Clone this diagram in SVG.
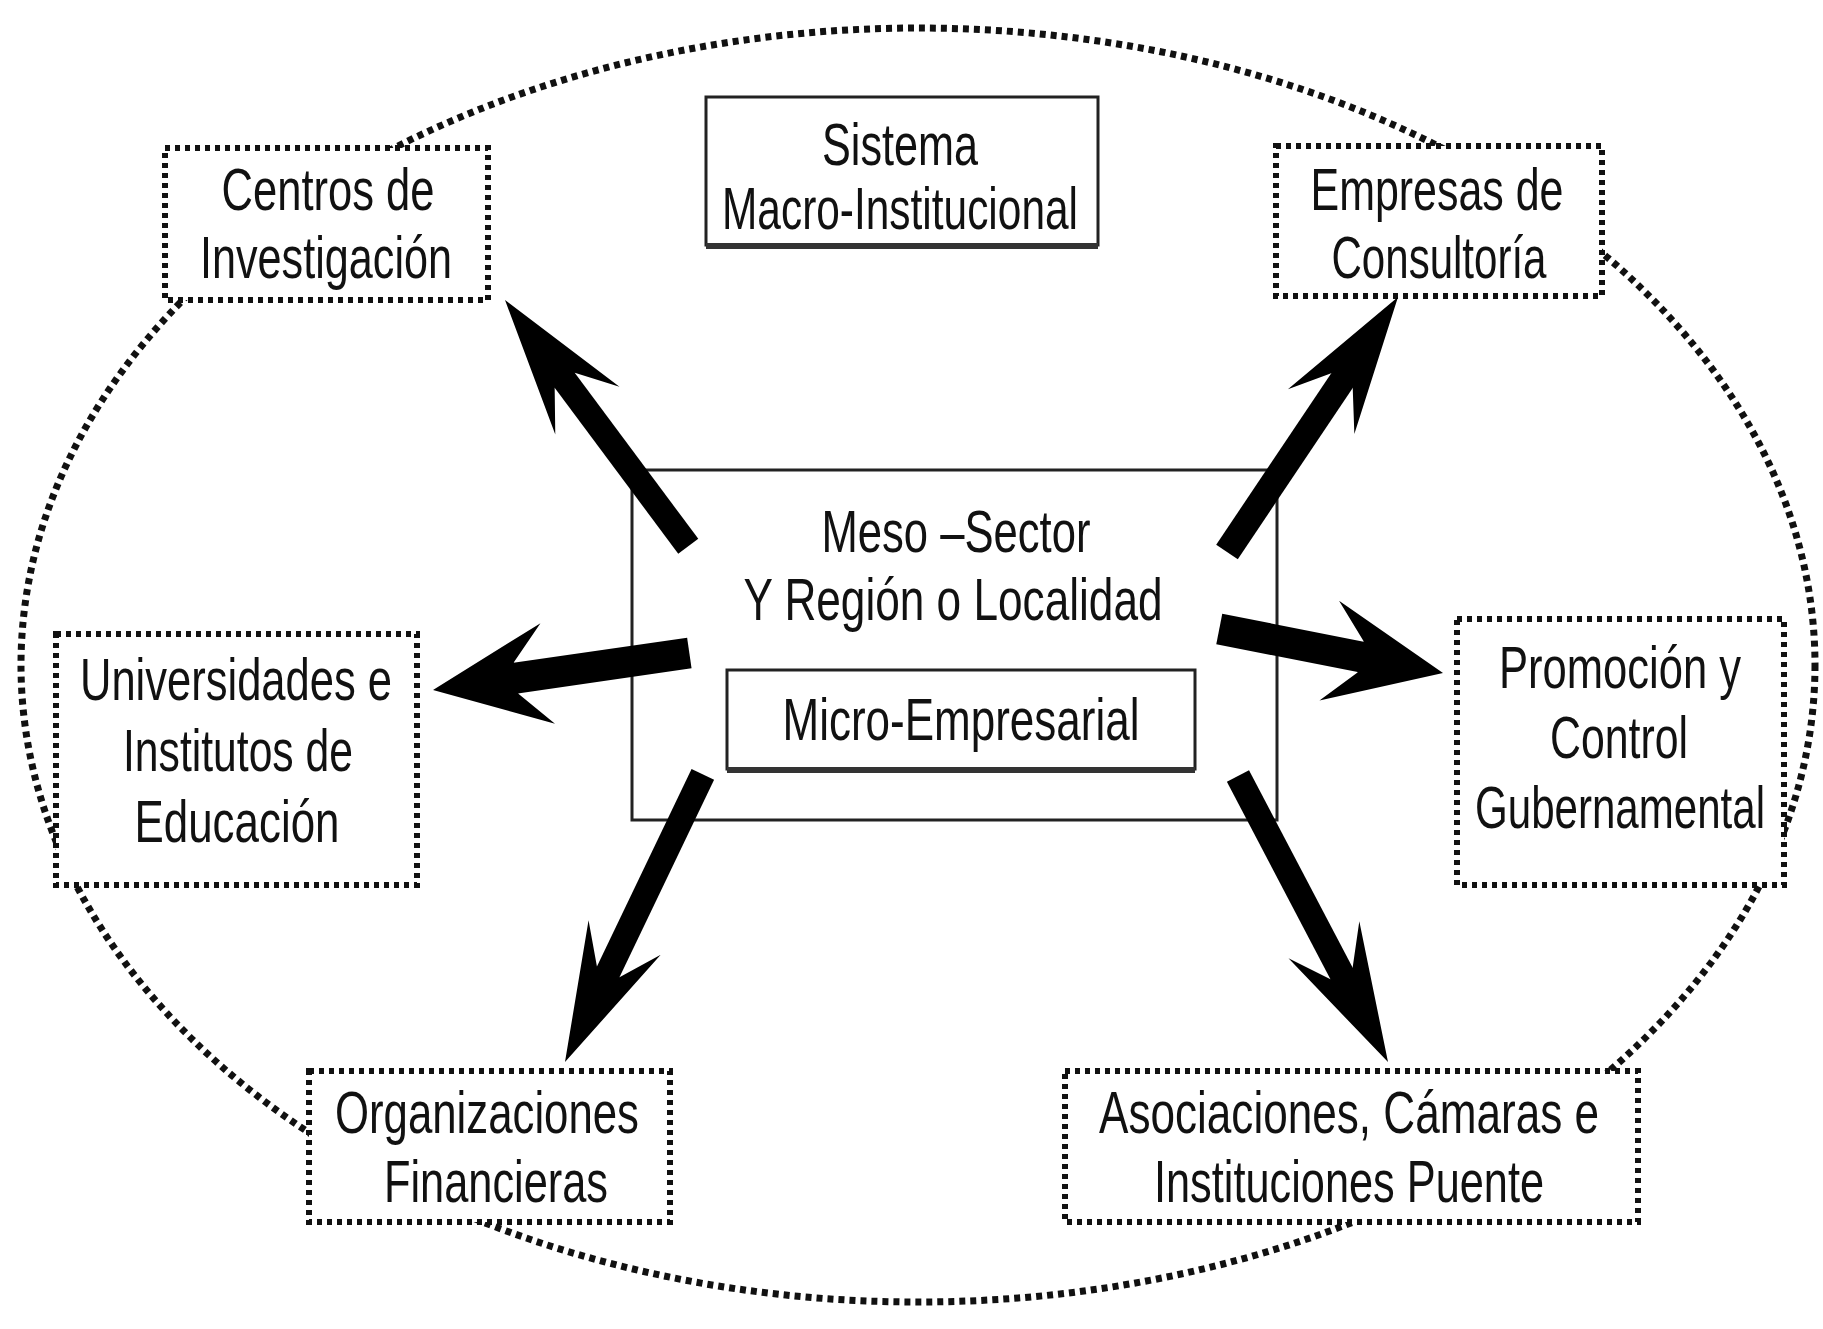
<svg xmlns="http://www.w3.org/2000/svg" xmlns:xlink="http://www.w3.org/1999/xlink" width="1823" height="1329" viewBox="0 0 1823 1329">
  <style>
    .lbl { font-family: "Liberation Sans", Arial, sans-serif; font-size: 60px; fill: #111; text-anchor: middle; }
    .tall { font-size: 44px; }
    .dotbox { fill: #fff; stroke: #111; stroke-width: 6; stroke-dasharray: 5 5; }
    .solidbox { fill: #fff; stroke: #222; stroke-width: 3; }
    .shadow { stroke: #333; stroke-width: 6; }
    .ring { fill: none; stroke: #111; stroke-width: 7; stroke-dasharray: 6 5; }
    .arrow { fill: #000; }
  </style>
  <defs>
    <!-- barbed arrow head, tip at the origin pointing along +x -->
    <path id="head" d="M0,0 L-138,-40 L-100,-12.5 L-100,12.5 L-138,40 Z"/>
  </defs>

  <rect width="1823" height="1329" fill="#fff"/>

  <!-- surrounding dotted boundary -->
  <ellipse class="ring" cx="918" cy="665" rx="897" ry="637"/>

  <!-- central system -->
  <g id="meso">
    <rect class="solidbox" x="632" y="470" width="645" height="350" stroke="#000"/>
    <text class="lbl" x="956" y="552" textLength="269" lengthAdjust="spacingAndGlyphs">Meso –Sector</text>
    <text class="lbl" x="953" y="620" textLength="419" lengthAdjust="spacingAndGlyphs">Y Región o Localidad</text>
  </g>
  <g id="micro">
    <rect class="solidbox" x="727" y="670" width="468" height="99"/>
    <line class="shadow" x1="727" y1="770" x2="1195" y2="770"/>
    <text class="lbl" x="961" y="740" textLength="357" lengthAdjust="spacingAndGlyphs">Micro-Empresarial</text>
  </g>
  <g id="macro">
    <rect class="solidbox" x="706" y="97" width="392" height="148"/>
    <line class="shadow" x1="706" y1="246" x2="1098" y2="246"/>
    <text class="lbl" x="900" y="165" textLength="156" lengthAdjust="spacingAndGlyphs">Sistema</text>
    <text class="lbl" x="900" y="229" textLength="356" lengthAdjust="spacingAndGlyphs">Macro-Institucional</text>
  </g>

  <!-- surrounding institutions -->
  <g id="centros">
    <rect class="dotbox" x="165" y="148" width="323" height="152"/>
    <text class="lbl" x="328" y="210" textLength="213" lengthAdjust="spacingAndGlyphs">Centros de</text>
    <text class="lbl" x="326" y="278" textLength="252" lengthAdjust="spacingAndGlyphs">Investigación</text>
  </g>
  <g id="empresas">
    <rect class="dotbox" x="1276" y="146" width="326" height="150"/>
    <text class="lbl" x="1437" y="210" textLength="253" lengthAdjust="spacingAndGlyphs">Empresas de</text>
    <text class="lbl" x="1439" y="278" textLength="215" lengthAdjust="spacingAndGlyphs">Consultoría</text>
  </g>
  <g id="universidades">
    <rect class="dotbox" x="56" y="634" width="361" height="251"/>
    <text class="lbl" x="236" y="700" textLength="312" lengthAdjust="spacingAndGlyphs">Universidades e</text>
    <text class="lbl" x="238" y="771" textLength="230" lengthAdjust="spacingAndGlyphs">Institutos de</text>
    <text class="lbl" x="237" y="842" textLength="205" lengthAdjust="spacingAndGlyphs">Educación</text>
  </g>
  <g id="promocion">
    <rect class="dotbox" x="1457" y="619" width="327" height="266"/>
    <!-- smaller size stretched upright so the long lines stay inside the box -->
    <text class="lbl tall" transform="matrix(1,0,0,1.364,1620,688)" x="0" y="0" textLength="242" lengthAdjust="spacingAndGlyphs">Promoción y</text>
    <text class="lbl" x="1619" y="758" textLength="138" lengthAdjust="spacingAndGlyphs">Control</text>
    <text class="lbl tall" transform="matrix(1,0,0,1.364,1620,828)" x="0" y="0" textLength="290" lengthAdjust="spacingAndGlyphs">Gubernamental</text>
  </g>
  <g id="organizaciones">
    <rect class="dotbox" x="309" y="1071" width="361" height="151"/>
    <text class="lbl" x="487" y="1133" textLength="304" lengthAdjust="spacingAndGlyphs">Organizaciones</text>
    <text class="lbl" x="496" y="1202" textLength="224" lengthAdjust="spacingAndGlyphs">Financieras</text>
  </g>
  <g id="asociaciones">
    <rect class="dotbox" x="1065" y="1071" width="573" height="151"/>
    <text class="lbl" x="1349" y="1133" textLength="500" lengthAdjust="spacingAndGlyphs">Asociaciones, Cámaras e</text>
    <text class="lbl" x="1349" y="1202" textLength="390" lengthAdjust="spacingAndGlyphs">Instituciones Puente</text>
  </g>

  <!-- thick arrows from the meso level outwards; each group is placed at its tip -->
  <g id="connectors" class="arrow">
    <g transform="translate(505,300) rotate(-126.65)">
      <rect x="-307" y="-12.5" width="212" height="25"/>
      <use href="#head"/>
    </g>
    <g transform="translate(1398,297) rotate(-56.15)">
      <rect x="-307" y="-13" width="212" height="26"/>
      <use href="#head"/>
    </g>
    <g transform="translate(433,690) rotate(171.78)">
      <rect x="-259" y="-15.5" width="179" height="31"/>
      <use href="#head" transform="scale(0.84,1.27)"/>
    </g>
    <g transform="translate(1443,673) rotate(11.11)">
      <rect x="-228" y="-15.5" width="148" height="31"/>
      <use href="#head" transform="scale(0.84,1.27)"/>
    </g>
    <g transform="translate(565,1062) rotate(115.6)">
      <rect x="-319" y="-12.5" width="224" height="25"/>
      <use href="#head"/>
    </g>
    <g transform="translate(1388,1062) rotate(62.32)">
      <rect x="-323" y="-12.5" width="228" height="25"/>
      <use href="#head"/>
    </g>
  </g>
</svg>
